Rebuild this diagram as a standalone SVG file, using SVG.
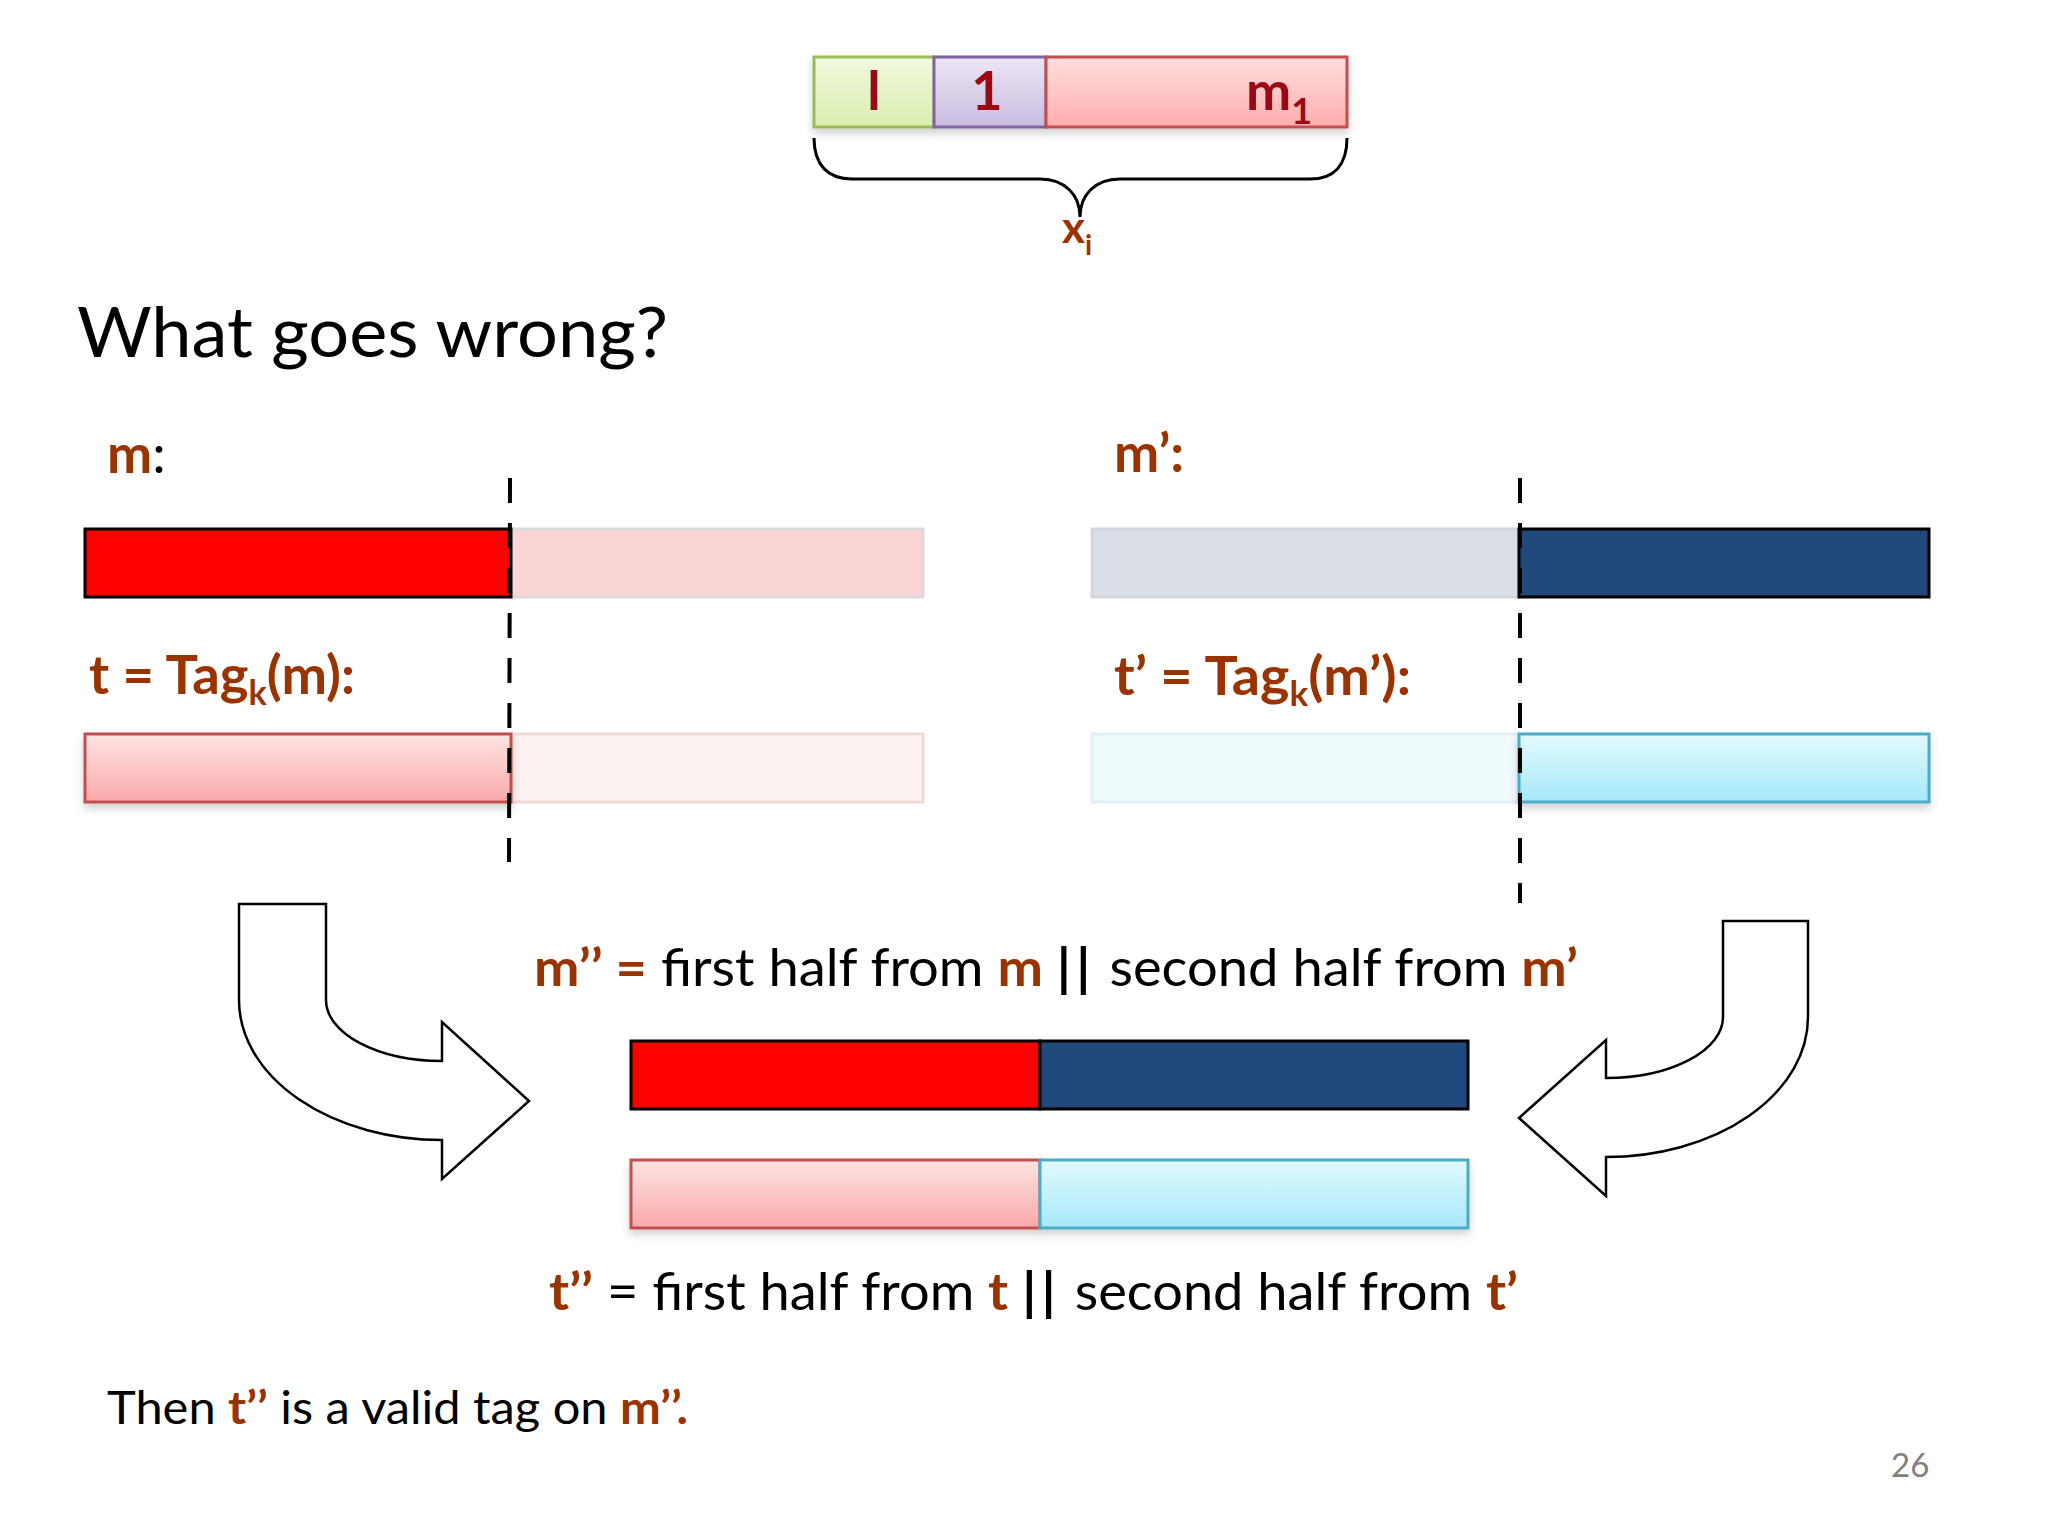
<svg xmlns="http://www.w3.org/2000/svg" width="2048" height="1536" viewBox="0 0 2048 1536">
<style>
  text { font-family: Lato, "Open Sans", "Liberation Sans", sans-serif; }
  .br { fill: #993300; font-weight: bold; }
  .bk { fill: #000000; }
  .bb { fill: #000000; font-weight: bold; letter-spacing: 5px; }
  .dr { fill: #9a0a14; font-weight: bold; font-size: 54px; }
  .dash { stroke: #000; stroke-width: 4; stroke-dasharray: 25 20; fill: none; }
  .arrow { fill: #ffffff; stroke: #000; stroke-width: 2.5; }
</style>
<defs>
  <linearGradient id="gGreen" x1="0" y1="0" x2="0" y2="1"><stop offset="0" stop-color="#f2f9df"/><stop offset="1" stop-color="#d9eeaf"/></linearGradient>
  <linearGradient id="gPurple" x1="0" y1="0" x2="0" y2="1"><stop offset="0" stop-color="#ece6f4"/><stop offset="1" stop-color="#c9bce0"/></linearGradient>
  <linearGradient id="gRed" x1="0" y1="0" x2="0" y2="1"><stop offset="0" stop-color="#ffdede"/><stop offset="1" stop-color="#ffadad"/></linearGradient>
  <linearGradient id="gPink" x1="0" y1="0" x2="0" y2="1"><stop offset="0" stop-color="#fde4e4"/><stop offset="1" stop-color="#f9a9a9"/></linearGradient>
  <linearGradient id="gCyan" x1="0" y1="0" x2="0" y2="1"><stop offset="0" stop-color="#e3fafe"/><stop offset="1" stop-color="#a6e8f9"/></linearGradient>
  <filter id="sh" x="-5%" y="-30%" width="110%" height="170%"><feDropShadow dx="0" dy="5" stdDeviation="4" flood-color="#000" flood-opacity="0.18"/></filter>
</defs>
<rect width="2048" height="1536" fill="#ffffff"/>

<g id="xi-block">
  <g filter="url(#sh)">
    <rect x="814" y="57" width="120" height="70" fill="url(#gGreen)" stroke="#9bbb59" stroke-width="3"/>
    <rect x="934" y="57" width="112" height="70" fill="url(#gPurple)" stroke="#8064a2" stroke-width="3"/>
    <rect x="1046" y="57" width="301" height="70" fill="url(#gRed)" stroke="#c0504d" stroke-width="3"/>
  </g>
  <text class="dr" x="874" y="110" text-anchor="middle">l</text>
  <text class="dr" x="987" y="110" text-anchor="middle">1</text>
  <text class="dr" x="1246" y="110">m<tspan font-size="36" dy="14">1</tspan></text>
  <path d="M814,138 C814,165 828,179 852,179 L1040,179 C1065,179 1080,195 1080,217 C1080,195 1095,179 1120,179 L1310,179 C1334,179 1347,165 1347,138" fill="none" stroke="#000" stroke-width="3"/>
  <text class="br" x="1062" y="243" font-size="44">x<tspan font-size="28" dy="12">i</tspan></text>
</g>

<text id="title" x="77" y="357" font-size="70" fill="#000" textLength="591" lengthAdjust="spacingAndGlyphs">What goes wrong?</text>

<g id="m">
  <text x="107" y="473" font-size="54"><tspan class="br">m</tspan><tspan class="bk">:</tspan></text>
  <rect x="511" y="529" width="412" height="68" fill="#fbd5d5" stroke="#d9d9d9" stroke-width="3"/>
  <rect x="85" y="529" width="426" height="68" fill="#ff0000" stroke="#000" stroke-width="3"/>
</g>

<g id="t">
  <text class="br" x="89" y="694" font-size="54" textLength="266" lengthAdjust="spacingAndGlyphs">t = Tag<tspan font-size="34" dy="11">k</tspan><tspan dy="-11">(m):</tspan></text>
  <rect x="511" y="734" width="412" height="68" fill="#fdf2f2" stroke="#f6d8d8" stroke-width="3"/>
  <rect x="85" y="734" width="426" height="68" fill="url(#gPink)" stroke="#c0504d" stroke-width="3" filter="url(#sh)"/>
</g>

<g id="m-prime">
  <text class="br" x="1114" y="472" font-size="54">m’:</text>
  <rect x="1092" y="529" width="427" height="68" fill="#d9dee6" stroke="#d3d6da" stroke-width="3"/>
  <rect x="1519" y="529" width="410" height="68" fill="#22497c" stroke="#000" stroke-width="3"/>
</g>

<g id="t-prime">
  <text class="br" x="1114" y="695" font-size="54" textLength="297" lengthAdjust="spacingAndGlyphs">t’ = Tag<tspan font-size="34" dy="11">k</tspan><tspan dy="-11">(m’):</tspan></text>
  <rect x="1092" y="734" width="427" height="68" fill="#f0fbfe" stroke="#e0f1f5" stroke-width="3"/>
  <rect x="1519" y="734" width="410" height="68" fill="url(#gCyan)" stroke="#4bacc6" stroke-width="3" filter="url(#sh)"/>
</g>

<g id="m-double">
  <text x="534" y="986" font-size="52" textLength="1044" lengthAdjust="spacingAndGlyphs"><tspan class="br">m’’ =</tspan><tspan class="bk"> first half from </tspan><tspan class="br">m</tspan><tspan class="bk"> </tspan><tspan class="bb">||</tspan><tspan class="bk"> second half from </tspan><tspan class="br">m’</tspan></text>
  <rect x="631" y="1041" width="409" height="68" fill="#ff0000" stroke="#000" stroke-width="3"/>
  <rect x="1040" y="1041" width="428" height="68" fill="#22497c" stroke="#000" stroke-width="3"/>
</g>

<g id="t-double">
  <g filter="url(#sh)">
    <rect x="631" y="1160" width="409" height="68" fill="url(#gPink)" stroke="#c0504d" stroke-width="3"/>
    <rect x="1040" y="1160" width="428" height="68" fill="url(#gCyan)" stroke="#4bacc6" stroke-width="3"/>
  </g>
  <text x="549" y="1310" font-size="52" textLength="969" lengthAdjust="spacingAndGlyphs"><tspan class="br">t’’</tspan><tspan class="bk"> = first half from </tspan><tspan class="br">t</tspan><tspan class="bk"> </tspan><tspan class="bb">||</tspan><tspan class="bk"> second half from </tspan><tspan class="br">t’</tspan></text>
</g>

<g id="connectors">
  <line class="dash" x1="510" y1="478" x2="509" y2="862"/>
  <line class="dash" x1="1520" y1="478" x2="1520" y2="903"/>
  <path class="arrow" d="M239,904 L326,904 L326,1000 A116,61 0 0 0 442,1061 L442,1022 L529,1101 L442,1179 L442,1140 A203,140 0 0 1 239,1000 Z"/>
  <path class="arrow" d="M1808,921 L1723,921 L1723,1017 A117,61 0 0 1 1606,1078 L1606,1040 L1519,1118 L1606,1196 L1606,1157 A202,140 0 0 0 1808,1017 Z"/>
</g>

<text id="conclusion" x="107" y="1424" font-size="46" textLength="581" lengthAdjust="spacingAndGlyphs"><tspan class="bk">Then </tspan><tspan class="br">t’’</tspan><tspan class="bk"> is a valid tag on </tspan><tspan class="br">m’’.</tspan></text>

<text id="page" x="1891" y="1477" font-size="33" fill="#808080">26</text>
</svg>
